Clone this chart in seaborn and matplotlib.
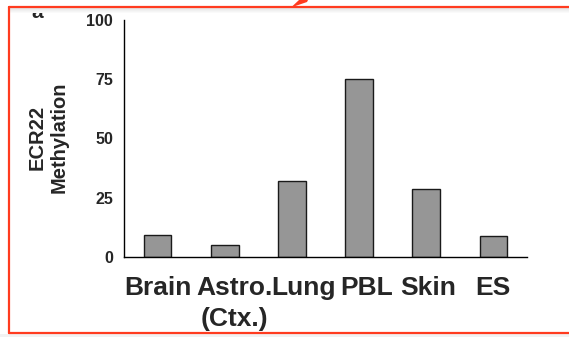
import matplotlib
matplotlib.use("Agg")
import matplotlib.pyplot as plt
import matplotlib.transforms as mtransforms
from matplotlib.patches import Rectangle, Polygon
from matplotlib import font_manager
import seaborn as sns
import pandas as pd

categories = ["Brain", "Astro.\n(Ctx.)", "Lung", "PBL", "Skin", "ES"]
methylation = [9.1, 4.9, 32.1, 75.0, 28.7, 8.8]
y_ticks = [0, 25, 50, 75, 100]

sns.set_theme(style="white")
plt.rcParams["font.family"] = ["Liberation Sans", "DejaVu Sans"]
plt.rcParams["font.weight"] = "bold"

names = {f.name for f in font_manager.fontManager.ttflist}
has_narrow = "Liberation Sans Narrow" in names
label_family = ["Liberation Sans Narrow", "Liberation Sans"] if has_narrow else ["Liberation Sans"]
xfs = 22.5 if has_narrow else 19

W, H = 569, 337
fig = plt.figure(figsize=(W / 100, H / 100), dpi=100)
fig.patch.set_facecolor("white")

def fx(px):
    return px / W

def fy(py):
    return 1 - py / H

ax = fig.add_axes([fx(124), fy(257), fx(527) - fx(124), fy(20) - fy(257)])
df = pd.DataFrame({"cat": categories, "val": methylation})
sns.barplot(data=df, x="cat", y="val", color="#969696", saturation=1,
            edgecolor="#1a1a1a", linewidth=1.0, width=0.41, ax=ax)

ax.set_xlim(-0.5, len(categories) - 0.5)
ax.set_ylim(0, 100)
ax.set_yticks(y_ticks)
ax.set_yticklabels([str(v) for v in y_ticks], fontsize=11.5, fontweight="bold")
ax.set_xticks(range(len(categories)))
ax.set_xticklabels(categories, fontsize=xfs, fontweight="bold", linespacing=1.2 if has_narrow else 1.33,
                   family=label_family)
ax.set_xticks([i - 0.5 for i in range(len(categories) + 1)], minor=True)
ax.tick_params(axis="x", which="major", length=0, pad=12 if has_narrow else 14)
ax.tick_params(axis="x", which="minor", length=5, width=1, color="black", direction="out")
ax.tick_params(axis="y", length=5, width=1, color="black", direction="out", pad=3)
ax.set_xlabel("")
ax.set_ylabel("")
for s in ["top", "right"]:
    ax.spines[s].set_visible(False)
for s in ["left", "bottom"]:
    ax.spines[s].set_color("black")
    ax.spines[s].set_linewidth(1)

# small per-label horizontal nudges (pixels) as in reference layout
nudges = [0, 10, 12, 8, 2, -1]
for lab, dx in zip(ax.get_xticklabels(), nudges):
    lab.set_multialignment("center")
    lab.set_transform(lab.get_transform() + mtransforms.ScaledTranslation(dx / 100, 0, fig.dpi_scale_trans))

fig.text(fx(48), fy(137), "ECR22\nMethylation", rotation=90, ha="center", va="center",
         fontsize=14.5, fontweight="bold", multialignment="center", linespacing=1.15)

# screenshot frame decorations
fig.add_artist(Rectangle((0, 0), 1, fy(334), transform=fig.transFigure, facecolor="#f2f2f2",
                         edgecolor="none", zorder=-1))
for i, a in enumerate([0.10, 0.08, 0.06, 0.04, 0.02]):
    fig.add_artist(Rectangle((fx(9), fy(9 + i)), 1, 1 / H, transform=fig.transFigure,
                             facecolor="black", alpha=a, edgecolor="none"))
red = "#ff3b1f"
fig.add_artist(plt.Line2D([fx(9), 1], [fy(7), fy(7)], transform=fig.transFigure, color=red, lw=1.6))
fig.add_artist(plt.Line2D([fx(9), 1], [fy(333), fy(333)], transform=fig.transFigure, color=red, lw=1.6))
fig.add_artist(plt.Line2D([fx(9), fx(9)], [fy(7), fy(333)], transform=fig.transFigure, color=red, lw=1.6))
fig.add_artist(Polygon([(fx(291), fy(7.5)), (fx(299), fy(0)), (fx(308), fy(0)), (fx(307), fy(2))],
                       closed=True, transform=fig.transFigure, facecolor=red, edgecolor="none"))

t = fig.text(fx(37), fy(18), "a", ha="center", va="baseline", fontsize=15, fontweight="bold")
clip = Rectangle((fx(20), fy(18.5)), fx(40), fy(13) - fy(18.5), transform=fig.transFigure,
                 facecolor="none", edgecolor="none")
fig.add_artist(clip)
t.set_clip_path(clip)

fig.savefig("out.png", dpi=100)
